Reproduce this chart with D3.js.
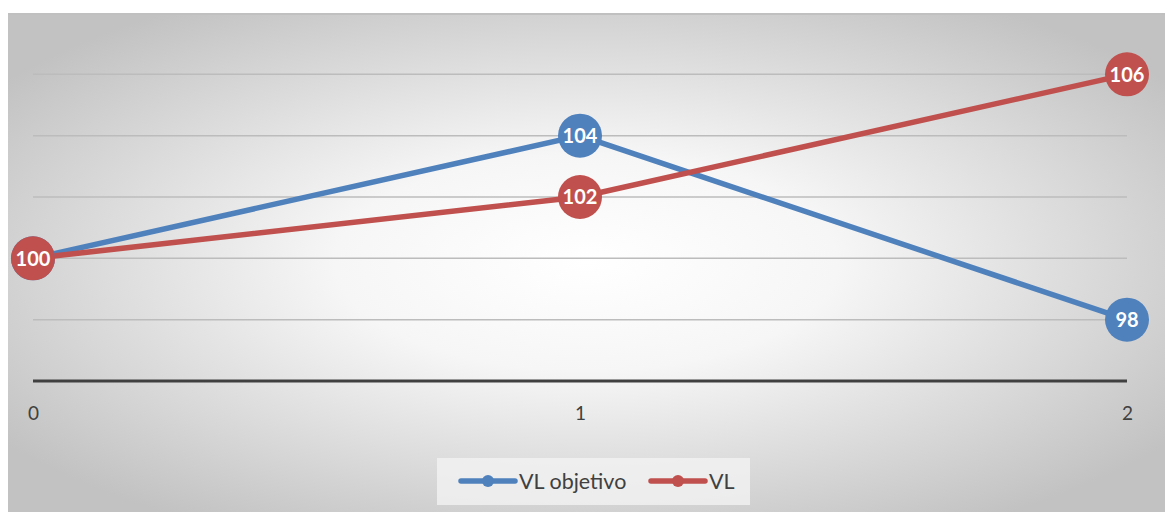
<!DOCTYPE html>
<html><head><meta charset="utf-8">
<script src="https://cdn.jsdelivr.net/npm/d3@7"></script>
<style>body{margin:0;background:#fff;}svg{display:block;font-family:Lato,"Open Sans",sans-serif;}</style>
</head><body>
<svg id="c" width="1165" height="513"></svg>
<script>
const categories = [0, 1, 2];
const vlObjetivo = [100, 104, 98];
const vl = [100, 102, 106];
const yTicks = [96, 98, 100, 102, 104, 106, 108];
const seriesNames = ["VL objetivo", "VL"];
const colors = ["#4f81bd", "#c0504d"];

const svg = d3.select("#c");
const defs = svg.append("defs");
const g = defs.append("radialGradient").attr("id","bg").attr("cx","50%").attr("cy","50%").attr("r","62%");
g.append("stop").attr("offset","0%").attr("stop-color","#ffffff");
g.append("stop").attr("offset","35%").attr("stop-color","#f6f6f6");
g.append("stop").attr("offset","100%").attr("stop-color","#c2c2c2");
svg.append("rect").attr("x",8).attr("y",13).attr("width",1157).attr("height",499).attr("fill","url(#bg)");
svg.append("line").attr("x1",8).attr("x2",1165).attr("y1",14).attr("y2",14).attr("stroke","#c0c0c0").attr("stroke-width",2);

const x = d3.scaleLinear().domain([0,2]).range([33,1127]);
const y = d3.scaleLinear().domain([96,108]).range([381,13]);

svg.append("g").selectAll("line").data(yTicks.filter(d=>d>96 && d<108)).join("line")
  .attr("x1",33).attr("x2",1127).attr("y1",d=>y(d)).attr("y2",d=>y(d))
  .attr("stroke","#bcbcbc").attr("stroke-width",1.5);

svg.append("line").attr("x1",33).attr("x2",1127).attr("y1",y(96)).attr("y2",y(96))
  .attr("stroke","#404040").attr("stroke-width",3);

const xAxis = svg.append("g").attr("transform",`translate(0,${y(96)})`)
  .call(d3.axisBottom(x).tickValues(categories).tickFormat(d3.format("d")).tickSize(0).tickPadding(26));
xAxis.select(".domain").remove();
xAxis.selectAll("text").attr("font-size",19).attr("fill","#404040").attr("font-family","Lato,'Open Sans',sans-serif");

const series = [vlObjetivo, vl];
const line = d3.line().x((d,i)=>x(categories[i])).y(d=>y(d));
series.forEach((s,k)=>{
  svg.append("path").datum(s).attr("d",line).attr("fill","none")
    .attr("stroke",colors[k]).attr("stroke-width",5.5).attr("stroke-linejoin","round");
});
series.forEach((s,k)=>{
  const gg = svg.append("g");
  gg.selectAll("circle").data(s).join("circle")
    .attr("cx",(d,i)=>x(categories[i])).attr("cy",d=>y(d)).attr("r",22).attr("fill",colors[k]);
  gg.selectAll("text").data(s).join("text")
    .attr("x",(d,i)=>x(categories[i])).attr("y",d=>y(d)).attr("dy","0.36em")
    .attr("text-anchor","middle").attr("fill","#fff").attr("font-weight","bold").attr("font-size",20)
    .text(d=>d);
});

// legend
const lg = svg.append("g");
lg.append("rect").attr("x",437).attr("y",458).attr("width",313).attr("height",47).attr("fill","#f2f2f2").attr("opacity",0.8);
const items = [{x:461,name:seriesNames[0],c:colors[0]},{x:651,name:seriesNames[1],c:colors[1]}];
items.forEach(it=>{
  lg.append("line").attr("x1",it.x).attr("x2",it.x+54).attr("y1",481).attr("y2",481)
    .attr("stroke",it.c).attr("stroke-width",5.5).attr("stroke-linecap","round");
  lg.append("circle").attr("cx",it.x+27).attr("cy",481).attr("r",6).attr("fill",it.c);
  lg.append("text").attr("x",it.x+58).attr("y",481).attr("dy","0.35em").attr("font-size",21.5)
    .attr("fill","#404040").text(it.name);
});
</script>
</body></html>
